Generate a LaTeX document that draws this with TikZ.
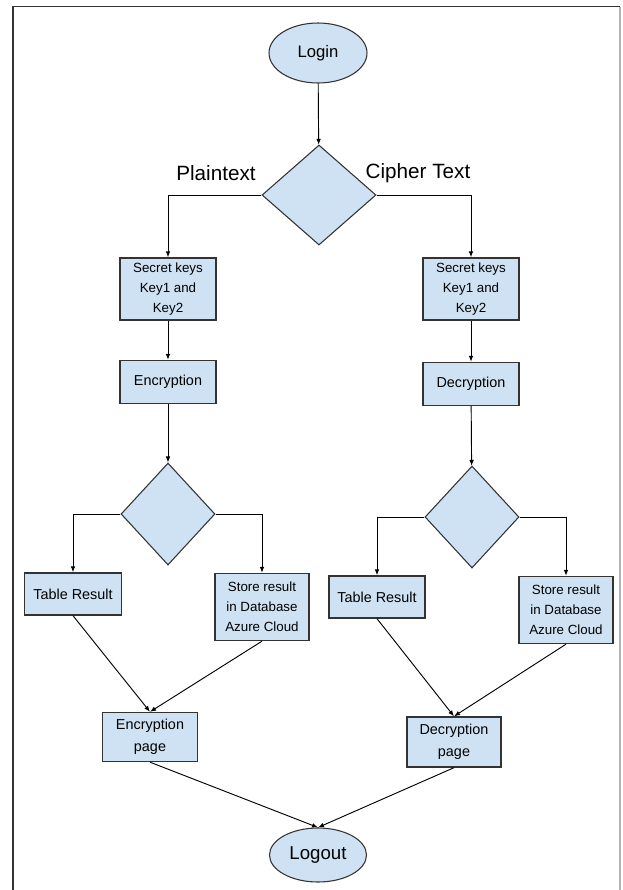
\documentclass[tikz,border=0pt]{standalone}
\usepackage{fontspec}
\setmainfont{Liberation Sans}
\usepackage{xcolor}
\usepackage{tikz}
\usetikzlibrary{shapes.geometric, arrows.meta, positioning}

\definecolor{paleblue}{HTML}{CFE2F3}
\definecolor{edgegray}{HTML}{333333}

\begin{document}
\begin{tikzpicture}[
  x=0.75pt, y=-0.75pt,
  stepbox/.style={draw=edgegray, line width=1pt, rectangle, fill=paleblue, inner sep=0pt, minimum width=#1, align=center, font=\fontsize{10}{15}\selectfont},
  bigtext/.style={font=\fontsize{10.8}{16.5}\selectfont},
  endpoint/.style={draw=edgegray, line width=0.8pt, ellipse, fill=paleblue, inner sep=0pt},
  choice/.style={draw=edgegray, line width=0.8pt, diamond, fill=paleblue, inner sep=0pt},
  flow/.style={line width=0.7pt, -{Latex[length=4.5pt,width=3.5pt]}},
  branch/.style={font=\fontsize{15.5}{18}\selectfont}
]
\useasboundingbox (0,0) rectangle (622,890);

% Frame
\draw[line width=1.2pt, black!80] (13,890) -- (13,6.5) -- (620,6.5);
\draw[line width=0.8pt, gray!60] (620,6.5) -- (620,890);

% Start and choice
\node[endpoint, minimum width=73.5pt, minimum height=45pt, font=\fontsize{12.5}{15}\selectfont] (login) at (318,53) {Login};
\node[choice, minimum width=85.5pt, minimum height=75pt] (mode) at (319,195) {};
\node[branch] (plainlbl) at (216,173) {Plaintext};
\node[branch] (cipherlbl) at (418,173) {Cipher Text};

% Encryption side
\node[stepbox=72pt, minimum height=46.5pt] (keysL) at (168,289) {Secret keys\\Key1 and\\Key2};
\node[stepbox=72pt, minimum height=32.25pt, bigtext] (enc) at (168,382) {Encryption};
\node[choice, minimum width=70.5pt, minimum height=76.5pt] (outL) at (168,514) {};
\node[stepbox=72.75pt, minimum height=31.5pt, bigtext] (tableL) at (73,594) {Table Result};
\node[stepbox=70.5pt, minimum height=50.25pt] (storeL) at (262,607) {Store result\\in Database\\Azure Cloud};
\node[stepbox=71.25pt, minimum height=36.75pt, bigtext] (encpage) at (150,737) {Encryption\\page};

% Decryption side
\node[stepbox=72pt, minimum height=46.5pt] (keysR) at (471,289) {Secret keys\\Key1 and\\Key2};
\node[stepbox=72pt, minimum height=32.25pt, bigtext] (dec) at (471,384) {Decryption};
\node[choice, minimum width=70.5pt, minimum height=76.5pt] (outR) at (472,517) {};
\node[stepbox=72pt, minimum height=31.5pt, bigtext] (tableR) at (377,597) {Table Result};
\node[stepbox=70.5pt, minimum height=50.25pt] (storeR) at (566,610) {Store result\\in Database\\Azure Cloud};
\node[stepbox=70.5pt, minimum height=37.5pt, bigtext] (decpage) at (454,742) {Decryption\\page};

% End
\node[endpoint, minimum width=72.75pt, minimum height=40.5pt, font=\fontsize{14}{16}\selectfont] (logout) at (318,855) {Logout};

% Relations
\draw[flow] (login) -- (mode);
\draw[flow] (mode.west) -| (keysL.north);
\draw[flow] (mode.east) -| (keysR.north);
\draw[flow] (keysL) -- (enc);
\draw[flow] (keysR) -- (dec);
\draw[flow] (enc) -- (outL);
\draw[flow] (dec) -- (outR);
\draw[flow] (outL.west) -| (tableL.north);
\draw[flow] (outL.east) -| (storeL.north);
\draw[flow] (outR.west) -| (tableR.north);
\draw[flow] (outR.east) -| (storeR.north);
\draw[flow] (tableL.south) -- (encpage.north);
\draw[flow] (storeL.south) -- (encpage.north);
\draw[flow] (tableR.south) -- (decpage.north);
\draw[flow] (storeR.south) -- (decpage.north);
\draw[flow] (encpage.south) -- (logout.north);
\draw[flow] (decpage.south) -- (logout.north);

\end{tikzpicture}
\end{document}
